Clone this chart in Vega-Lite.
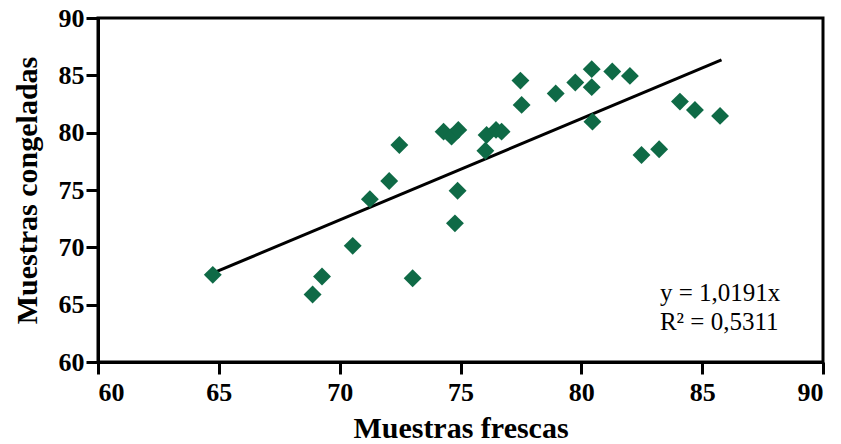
{
  "$schema": "https://vega.github.io/schema/vega-lite/v6.json",
  "width": 725,
  "height": 344,
  "autosize": {"type": "none"},
  "padding": {"left": 98, "top": 18, "right": 18, "bottom": 82},
  "background": "white",
  "config": {
    "view": {"stroke": "black", "strokeWidth": 3},
    "axis": {
      "grid": false,
      "domainColor": "black",
      "domainWidth": 3,
      "tickColor": "black",
      "tickWidth": 3,
      "tickSize": 12,
      "labelFont": "Liberation Serif",
      "labelFontWeight": "bold",
      "labelFontSize": 26,
      "labelColor": "black",
      "titleFont": "Liberation Serif",
      "titleFontWeight": "bold",
      "titleFontSize": 30,
      "titleColor": "black"
    }
  },
  "datasets": {
    "points": [
      {"fresca": 64.75, "congelada": 67.6},
      {"fresca": 68.88, "congelada": 65.89},
      {"fresca": 69.27, "congelada": 67.46},
      {"fresca": 70.54, "congelada": 70.13},
      {"fresca": 71.25, "congelada": 74.2},
      {"fresca": 72.05, "congelada": 75.78},
      {"fresca": 72.47, "congelada": 78.93},
      {"fresca": 73.02, "congelada": 67.3},
      {"fresca": 74.3, "congelada": 80.09},
      {"fresca": 74.63, "congelada": 79.65},
      {"fresca": 74.91, "congelada": 80.24},
      {"fresca": 74.88, "congelada": 74.93},
      {"fresca": 74.77, "congelada": 72.09},
      {"fresca": 76.03, "congelada": 78.42},
      {"fresca": 76.08, "congelada": 79.8},
      {"fresca": 76.47, "congelada": 80.24},
      {"fresca": 76.7, "congelada": 80.09},
      {"fresca": 77.48, "congelada": 84.54},
      {"fresca": 77.53, "congelada": 82.42},
      {"fresca": 78.94, "congelada": 83.42},
      {"fresca": 79.75, "congelada": 84.37},
      {"fresca": 80.43, "congelada": 85.54},
      {"fresca": 80.43, "congelada": 83.97},
      {"fresca": 80.46, "congelada": 80.96},
      {"fresca": 81.28, "congelada": 85.33},
      {"fresca": 82.01, "congelada": 84.95},
      {"fresca": 82.49, "congelada": 78.05},
      {"fresca": 83.22, "congelada": 78.55},
      {"fresca": 84.08, "congelada": 82.71},
      {"fresca": 84.7, "congelada": 81.98},
      {"fresca": 85.74, "congelada": 81.46}
    ],
    "trend": [
      {"fresca": 64.75, "congelada": 67.75},
      {"fresca": 85.8, "congelada": 86.35}
    ],
    "labels": [
      {"fresca": 83.25, "congelada": 66.0, "texto": "y = 1,0191x"},
      {"fresca": 83.25, "congelada": 63.45, "texto": "R² = 0,5311"}
    ]
  },
  "layer": [
    {
      "data": {"name": "trend"},
      "mark": {"type": "line", "color": "black", "strokeWidth": 3},
      "encoding": {
        "x": {"field": "fresca", "type": "quantitative", "scale": {"domain": [60, 90], "nice": false},
              "axis": {"values": [60, 65, 70, 75, 80, 85, 90], "title": "Muestras frescas", "labelPadding": 5, "titlePadding": 8}},
        "y": {"field": "congelada", "type": "quantitative", "scale": {"domain": [60, 90], "nice": false},
              "axis": {"values": [60, 65, 70, 75, 80, 85, 90], "title": "Muestras congeladas", "labelPadding": 2, "titlePadding": 16}}
      }
    },
    {
      "data": {"name": "points"},
      "mark": {"type": "point", "shape": "diamond", "filled": true, "size": 320, "color": "#0f6a46", "opacity": 1},
      "encoding": {
        "x": {"field": "fresca", "type": "quantitative"},
        "y": {"field": "congelada", "type": "quantitative"}
      }
    },
    {
      "data": {"name": "labels"},
      "mark": {"type": "text", "align": "left", "baseline": "middle", "font": "Liberation Serif", "fontSize": 25, "color": "black"},
      "encoding": {
        "x": {"field": "fresca", "type": "quantitative"},
        "y": {"field": "congelada", "type": "quantitative"},
        "text": {"field": "texto"}
      }
    }
  ]
}
